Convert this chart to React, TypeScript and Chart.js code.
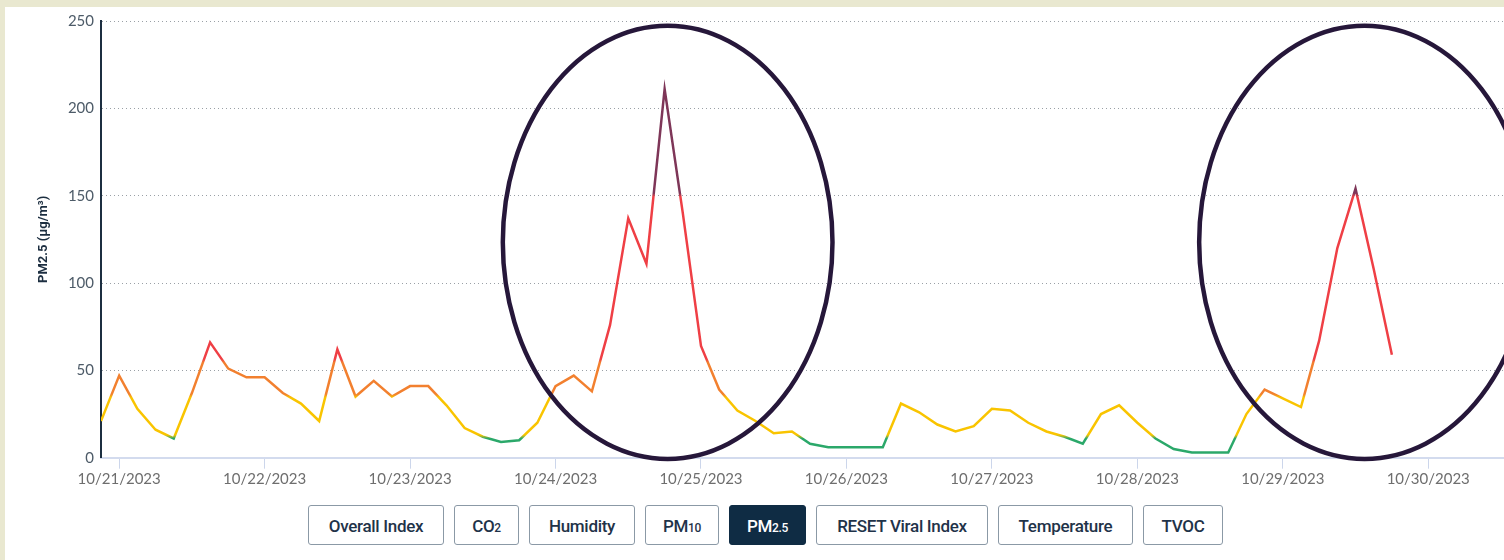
import React, { useEffect, useRef } from 'react';
import { Chart, registerables } from 'chart.js';

Chart.register(...registerables);

// ---- data ----
const dayLabels = [
  '10/21/2023', '10/22/2023', '10/23/2023', '10/24/2023', '10/25/2023',
  '10/26/2023', '10/27/2023', '10/28/2023', '10/29/2023', '10/30/2023',
];
// hours since 10/21/2023 00:00 of each day tick
const dayTickHours = [0, 24, 48, 72, 96, 120, 144, 168, 192, 216];

// PM2.5 readings every 3 hours, first one at 10/20/2023 21:00
const firstSampleHour = -3;
const sampleStepHours = 3;
const pm25 = [
  21, 47, 28, 16, 11, 37, 66, 51,
  46, 46, 37, 31, 21, 62, 35, 44,
  35, 41, 41, 30, 17, 12, 9, 10,
  20, 41, 47, 38, 76, 137, 111, 211,
  140, 64, 39, 27, 21, 14, 15, 8,
  6, 6, 6, 6, 31, 26, 19, 15,
  18, 28, 27, 20, 15, 12, 8, 25,
  30, 20, 11, 5, 3, 3, 3, 25,
  39, 34, 29, 67, 120, 154, 108, 59,
];
const sampleHours = pm25.map((_, i) => firstSampleHour + i * sampleStepHours);

// AQI colour bands for PM2.5
const aqiBreaks = [12, 35.4, 55.4, 150.4];
const aqiColors = ['#2ba86a', '#f9c400', '#f2802f', '#ef3f45', '#7e3658'];

// highlight ellipses (data coordinates)
const highlightCenterHours = [90.5, 205.5];
const highlightCenterValues = [123.3, 123.3];
const highlightRadiusHours = [27.2, 27.3];
const highlightRadiusValues = [124, 124];

const buttonLabels = ['Overall Index', 'CO2', 'Humidity', 'PM10', 'PM2.5', 'RESET Viral Index', 'Temperature', 'TVOC'];
const buttonWidths = [136, 65, 106, 74, 77, 172, 135, 80];
const activeButton = 'PM2.5';

const Y_MIN = 0;
const Y_MAX = 250;

const ellipsePlugin = {
  id: 'highlightEllipses',
  afterDraw(chart: any) {
    const { ctx, scales } = chart;
    const x = scales.x;
    const y = scales.y;
    ctx.save();
    ctx.strokeStyle = '#26173a';
    ctx.lineWidth = 4.5;
    for (let i = 0; i < highlightCenterHours.length; i++) {
      const cx = x.getPixelForValue(highlightCenterHours[i]);
      const cy = y.getPixelForValue(highlightCenterValues[i]);
      const rx = x.getPixelForValue(highlightCenterHours[i] + highlightRadiusHours[i]) - cx;
      const ry = cy - y.getPixelForValue(highlightCenterValues[i] + highlightRadiusValues[i]);
      ctx.beginPath();
      ctx.ellipse(cx, cy, rx, ry, 0, 0, Math.PI * 2);
      ctx.stroke();
    }
    ctx.restore();
  },
};

function bandGradient(context: any) {
  const chart = context.chart;
  const { ctx, chartArea, scales } = chart;
  if (!chartArea || !scales.y) return aqiColors[1];
  const y0 = scales.y.getPixelForValue(Y_MIN);
  const y1 = scales.y.getPixelForValue(Y_MAX);
  const g = ctx.createLinearGradient(0, y0, 0, y1);
  g.addColorStop(0, aqiColors[0]);
  const blend = 0.004;
  aqiBreaks.forEach((b, i) => {
    const p = (b - Y_MIN) / (Y_MAX - Y_MIN);
    g.addColorStop(Math.max(0, p - blend), aqiColors[i]);
    g.addColorStop(Math.min(1, p + blend), aqiColors[i + 1]);
  });
  g.addColorStop(1, aqiColors[aqiColors.length - 1]);
  return g;
}

function renderLabel(label: string) {
  const m = label.match(/^(CO|PM)([\d.]+)$/);
  if (!m) return label;
  return (
    <>
      {m[1]}
      <span style={{ fontSize: 12, position: 'relative', top: 2 }}>{m[2]}</span>
    </>
  );
}

export default function App() {
  const ref = useRef<HTMLCanvasElement>(null);

  useEffect(() => {
    if (!ref.current) return;
    const chart = new Chart(ref.current, {
      type: 'line',
      data: {
        datasets: [
          {
            label: 'PM2.5',
            data: sampleHours.map((h, i) => ({ x: h, y: pm25[i] })),
            borderColor: bandGradient as any,
            borderWidth: 2.5,
            pointRadius: 0,
            pointHoverRadius: 0,
            tension: 0,
            fill: false,
          },
        ],
      },
      options: {
        animation: false,
        responsive: false,
        devicePixelRatio: 1,
        layout: { padding: { top: 21, left: 0, right: 0, bottom: 0 } },
        plugins: {
          legend: { display: false },
          tooltip: { enabled: false },
        },
        scales: {
          x: {
            type: 'linear',
            min: -3,
            max: 228.5,
            afterFit: (scale: any) => {
              scale.height = 42.3;
            },
            afterBuildTicks: (scale: any) => {
              scale.ticks = dayTickHours.map((v) => ({ value: v }));
            },
            ticks: {
              autoSkip: false,
              maxRotation: 0,
              padding: 1,
              color: '#6e6e6e',
              font: { family: 'Lato', size: 15 },
              callback: (value: any) => {
                const idx = dayTickHours.indexOf(Number(value));
                return idx >= 0 ? dayLabels[idx] : '';
              },
            },
            grid: {
              drawOnChartArea: false,
              drawTicks: true,
              tickLength: 11,
              tickColor: '#ccd6eb',
              tickWidth: 1,
            },
            border: { display: true, color: '#d3dbee', width: 2 },
          },
          y: {
            min: Y_MIN,
            max: Y_MAX,
            afterFit: (scale: any) => {
              scale.width = 101;
            },
            ticks: {
              stepSize: 50,
              padding: 7,
              color: '#4d5b68',
              font: { family: 'Lato', size: 15 },
            },
            grid: {
              drawTicks: false,
              color: (ctx: any) => (ctx.tick && ctx.tick.value === 0 ? 'rgba(0,0,0,0)' : '#9aa0a6'),
              lineWidth: 1,
            },
            border: { display: true, color: '#1c2e40', width: 2, dash: [1, 3] },
            title: {
              display: true,
              text: 'PM2.5 (μg/m³)',
              color: '#1c2e40',
              font: { family: 'Roboto', size: 13, weight: 'bold' },
              padding: { top: 36, bottom: 0 },
            },
          },
        },
      },
      plugins: [ellipsePlugin],
    });
    return () => chart.destroy();
  }, []);

  return (
    <div style={{ position: 'fixed', inset: 0, background: '#e9e8d0', overflow: 'hidden' }}>
      <div style={{ position: 'absolute', left: 5, top: 7, right: 0, bottom: 0, background: '#ffffff' }} />
      <canvas
        ref={ref}
        width={1504}
        height={500}
        style={{ position: 'absolute', left: 0, top: 0, width: 1504, height: 500 }}
      />
      <div style={{ position: 'absolute', left: 308, top: 505, display: 'flex', gap: 10 }}>
        {buttonLabels.map((b, i) => {
          const active = b === activeButton;
          return (
            <div
              key={b}
              style={{
                width: buttonWidths[i],
                height: 40,
                boxSizing: 'border-box',
                border: `1px solid ${active ? '#0f2c44' : '#8b99a6'}`,
                borderRadius: 3,
                background: active ? '#0f2c44' : '#ffffff',
                color: active ? '#ffffff' : '#1f3349',
                fontFamily: 'Roboto, sans-serif',
                fontWeight: 500,
                fontSize: 17,
                letterSpacing: -0.3,
                display: 'flex',
                alignItems: 'center',
                justifyContent: 'center',
                whiteSpace: 'nowrap',
                paddingTop: 1,
              }}
            >
              {renderLabel(b)}
            </div>
          );
        })}
      </div>
    </div>
  );
}
